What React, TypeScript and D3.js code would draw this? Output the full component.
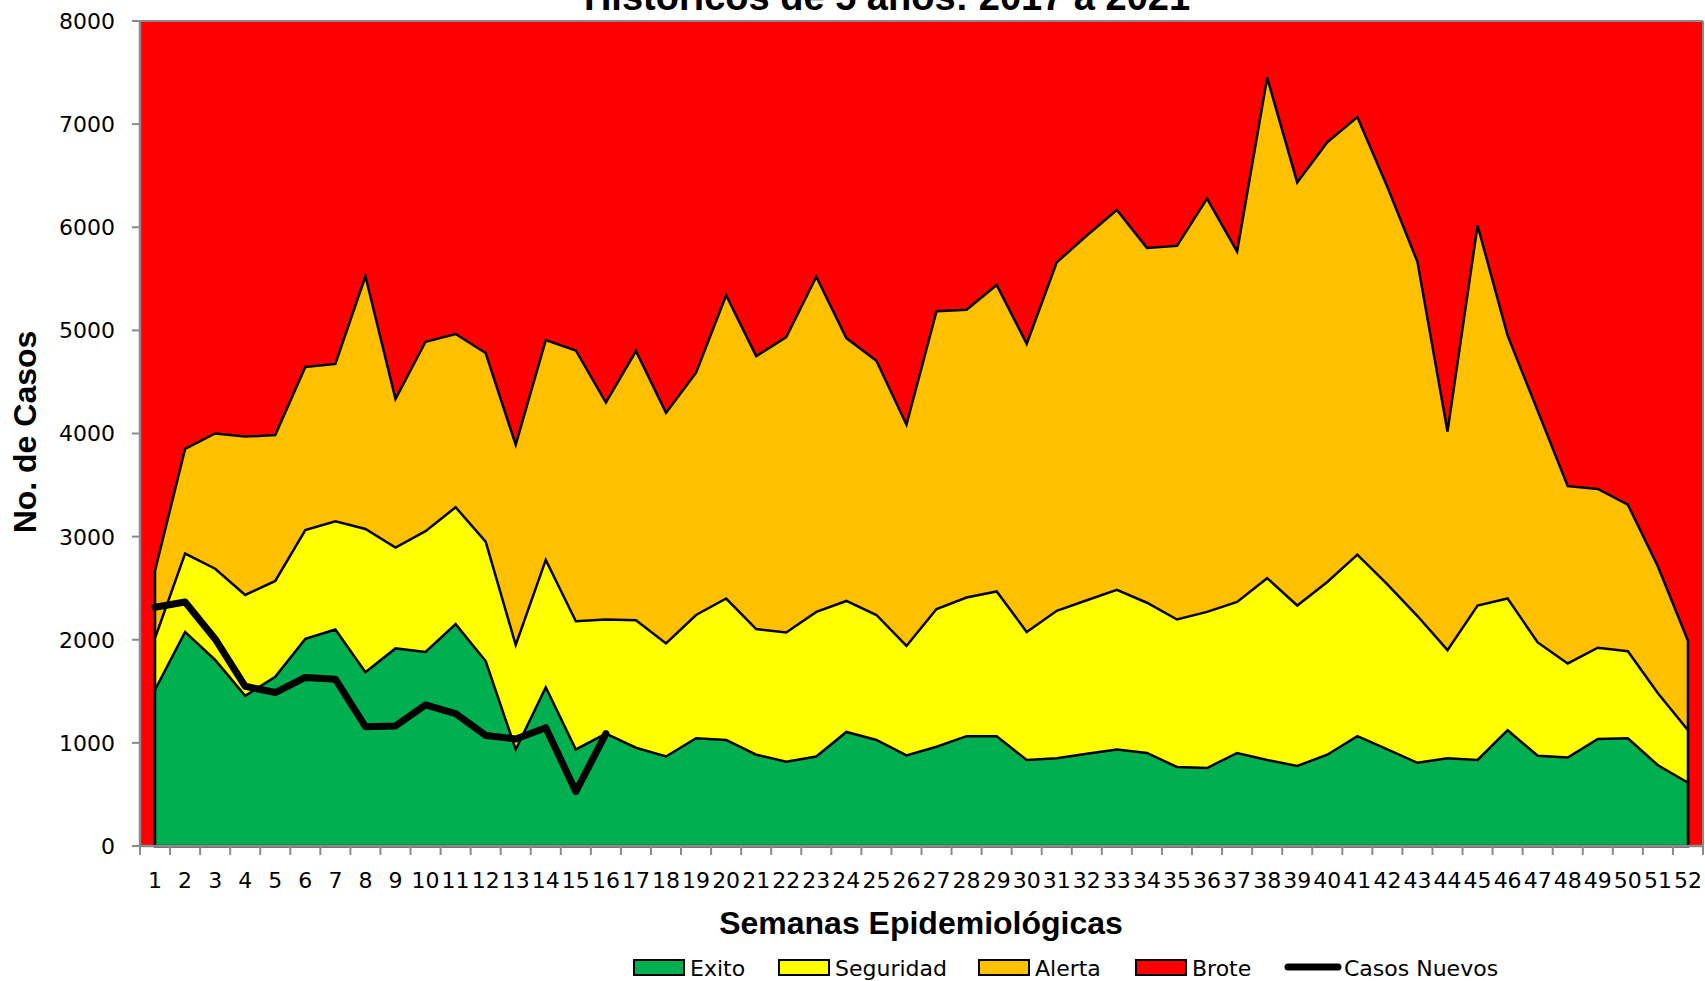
import React, { useEffect, useRef } from 'react';
import * as d3 from 'd3';

const weeks = [
  1, 2, 3, 4, 5, 6, 7, 8, 9, 10, 11, 12, 13, 14, 15, 16, 17, 18, 19, 20, 21, 22, 23, 24, 25, 26,
  27, 28, 29, 30, 31, 32, 33, 34, 35, 36, 37, 38, 39, 40, 41, 42, 43, 44, 45, 46, 47, 48, 49, 50, 51, 52,
];

// upper edge of each zone (cumulative)
const exito = [
  1515, 2076, 1804, 1457, 1641, 2008, 2100, 1685, 1916, 1882, 2151, 1794, 936, 1539, 936, 1089, 953, 868,
  1045, 1028, 885, 817, 868, 1106, 1028, 878, 963, 1065, 1065, 834, 851, 895, 936, 902, 766, 756, 902, 834,
  776, 885, 1065, 936, 807, 851, 834, 1123, 875, 858, 1038, 1045, 783, 613,
];
const seguridad = [
  2015, 2836, 2689, 2434, 2570, 3064, 3149, 3074, 2893, 3053, 3285, 2951, 1950, 2774, 2179, 2196, 2189, 1964,
  2240, 2400, 2104, 2070, 2270, 2376, 2240, 1940, 2298, 2410, 2468, 2076, 2281, 2383, 2485, 2359, 2196, 2270,
  2366, 2597, 2332, 2560, 2825, 2536, 2230, 1899, 2332, 2400, 1974, 1770, 1923, 1889, 1481, 1123,
];
const alerta = [
  2670, 3850, 4000, 3970, 3985, 4645, 4675, 5525, 4335, 4890, 4965, 4780, 3890, 4905, 4805, 4300, 4800, 4200,
  4590, 5340, 4750, 4935, 5520, 4925, 4705, 4085, 5185, 5200, 5440, 4870, 5660, 5920, 6167, 5800, 5820, 6278,
  5765, 7450, 6435, 6825, 7068, 6390, 5665, 4018, 6017, 4950, 4220, 3489, 3462, 3310, 2710, 1990,
];
const casosNuevos = [2315, 2366, 2008, 1549, 1488, 1634, 1617, 1157, 1164, 1368, 1283, 1072, 1038, 1147, 528, 1089];

const yTicks = [0, 1000, 2000, 3000, 4000, 5000, 6000, 7000, 8000];

const COLORS = { exito: '#00B050', seguridad: '#FFFF00', alerta: '#FFC000', brote: '#FF0000' };

const App: React.FC = () => {
  const svgRef = useRef<SVGSVGElement | null>(null);

  useEffect(() => {
    if (!svgRef.current) return;
    const svg = d3.select(svgRef.current);
    svg.selectAll('*').remove();

    const width = 1705;
    const height = 981;
    const margin = { top: 21, right: 2, bottom: 135, left: 140 };
    const axisColor = '#8a8a8a';
    const tickFont = "'DejaVu Sans', sans-serif";
    const boldFont = "'Liberation Sans', Arial, sans-serif";

    const x = d3.scaleBand<number>()
      .domain(weeks)
      .range([margin.left, width - margin.right]);
    const cx = (w: number) => (x(w) as number) + x.bandwidth() / 2;

    const y = d3.scaleLinear()
      .domain([0, 8000])
      .range([height - margin.bottom, margin.top]);

    // plot background = Brote zone
    svg.append('rect')
      .attr('x', margin.left)
      .attr('y', margin.top)
      .attr('width', width - margin.right - margin.left)
      .attr('height', y(0) - margin.top)
      .attr('fill', COLORS.brote);

    const rows = weeks.map((w, i) => ({ w, e: exito[i], s: seguridad[i], a: alerta[i] }));

    const layers: { key: string; hi: (d: any) => number; color: string }[] = [
      { key: 'alerta', hi: d => d.a, color: COLORS.alerta },
      { key: 'seguridad', hi: d => d.s, color: COLORS.seguridad },
      { key: 'exito', hi: d => d.e, color: COLORS.exito },
    ];

    layers.forEach(l => {
      const area = d3.area<any>()
        .x(d => cx(d.w))
        .y0(y(0))
        .y1(d => y(l.hi(d)));
      svg.append('path')
        .datum(rows)
        .attr('d', area)
        .attr('fill', l.color)
        .attr('stroke', '#000')
        .attr('stroke-width', 2.5)
        .attr('stroke-linejoin', 'miter');
    });

    // Casos Nuevos
    const line = d3.line<number>()
      .x((_, i) => cx(weeks[i]))
      .y(d => y(d));
    svg.append('path')
      .datum(casosNuevos)
      .attr('d', line)
      .attr('fill', 'none')
      .attr('stroke', '#000')
      .attr('stroke-width', 7)
      .attr('stroke-linejoin', 'round')
      .attr('stroke-linecap', 'round');

    // frame (top / right borders)
    svg.append('line')
      .attr('x1', margin.left).attr('x2', width - margin.right)
      .attr('y1', margin.top).attr('y2', margin.top)
      .attr('stroke', axisColor).attr('stroke-width', 2);
    svg.append('line')
      .attr('x1', width - margin.right).attr('x2', width - margin.right)
      .attr('y1', margin.top).attr('y2', y(0))
      .attr('stroke', axisColor).attr('stroke-width', 2);

    // y axis
    svg.append('line')
      .attr('x1', margin.left).attr('x2', margin.left)
      .attr('y1', margin.top - 1).attr('y2', y(0) + 1)
      .attr('stroke', axisColor).attr('stroke-width', 2.5);
    const yG = svg.append('g');
    yTicks.forEach(t => {
      yG.append('line')
        .attr('x1', margin.left - 8).attr('x2', margin.left)
        .attr('y1', y(t)).attr('y2', y(t))
        .attr('stroke', axisColor).attr('stroke-width', 2);
      yG.append('text')
        .attr('x', 115)
        .attr('y', y(t))
        .attr('dy', '0.36em')
        .attr('text-anchor', 'end')
        .attr('font-family', tickFont)
        .attr('font-size', 22)
        .attr('fill', '#000')
        .text(String(t));
    });

    // x axis
    svg.append('line')
      .attr('x1', margin.left).attr('x2', width - margin.right)
      .attr('y1', y(0)).attr('y2', y(0))
      .attr('stroke', axisColor).attr('stroke-width', 2.5);
    const xG = svg.append('g');
    weeks.forEach(w => {
      xG.append('line')
        .attr('x1', x(w) as number).attr('x2', x(w) as number)
        .attr('y1', y(0)).attr('y2', y(0) + 9)
        .attr('stroke', axisColor).attr('stroke-width', 2);
      xG.append('text')
        .attr('x', cx(w))
        .attr('y', 888)
        .attr('text-anchor', 'middle')
        .attr('font-family', tickFont)
        .attr('font-size', 22)
        .attr('fill', '#000')
        .text(String(w));
    });
    xG.append('line')
      .attr('x1', width - margin.right).attr('x2', width - margin.right)
      .attr('y1', y(0)).attr('y2', y(0) + 9)
      .attr('stroke', axisColor).attr('stroke-width', 2);

    // titles (main title is cut by the top edge, as in the source)
    svg.append('text')
      .attr('x', 887)
      .attr('y', 10)
      .attr('text-anchor', 'middle')
      .attr('font-family', boldFont)
      .attr('font-weight', 'bold')
      .attr('font-size', 38)
      .text('Históricos de 5 años: 2017 a 2021');

    svg.append('text')
      .attr('x', 921)
      .attr('y', 934)
      .attr('text-anchor', 'middle')
      .attr('font-family', boldFont)
      .attr('font-weight', 'bold')
      .attr('font-size', 32)
      .text('Semanas Epidemiológicas');

    svg.append('text')
      .attr('transform', 'translate(36,432) rotate(-90)')
      .attr('text-anchor', 'middle')
      .attr('font-family', boldFont)
      .attr('font-weight', 'bold')
      .attr('font-size', 32)
      .text('No. de Casos');

    // legend
    const legend = [
      { label: 'Exito', color: COLORS.exito, x: 634, kind: 'box' },
      { label: 'Seguridad', color: COLORS.seguridad, x: 779, kind: 'box' },
      { label: 'Alerta', color: COLORS.alerta, x: 979, kind: 'box' },
      { label: 'Brote', color: COLORS.brote, x: 1136, kind: 'box' },
      { label: 'Casos Nuevos', color: '#000', x: 1286, kind: 'line' },
    ];
    const lg = svg.append('g');
    legend.forEach(item => {
      if (item.kind === 'box') {
        lg.append('rect')
          .attr('x', item.x).attr('y', 960)
          .attr('width', 50).attr('height', 15)
          .attr('fill', item.color)
          .attr('stroke', '#000').attr('stroke-width', 2);
      } else {
        lg.append('line')
          .attr('x1', item.x + 2).attr('x2', item.x + 52)
          .attr('y1', 967).attr('y2', 967)
          .attr('stroke', '#000').attr('stroke-width', 7)
          .attr('stroke-linecap', 'round');
      }
      lg.append('text')
        .attr('x', item.x + (item.kind === 'box' ? 56 : 58))
        .attr('y', 976)
        .attr('font-family', tickFont)
        .attr('font-size', 22)
        .attr('fill', '#000')
        .text(item.label);
    });
  }, []);

  return (
    <svg
      ref={svgRef}
      width={1705}
      height={981}
      style={{ position: 'absolute', left: 0, top: 0, background: '#fff' }}
    />
  );
};

export default App;
